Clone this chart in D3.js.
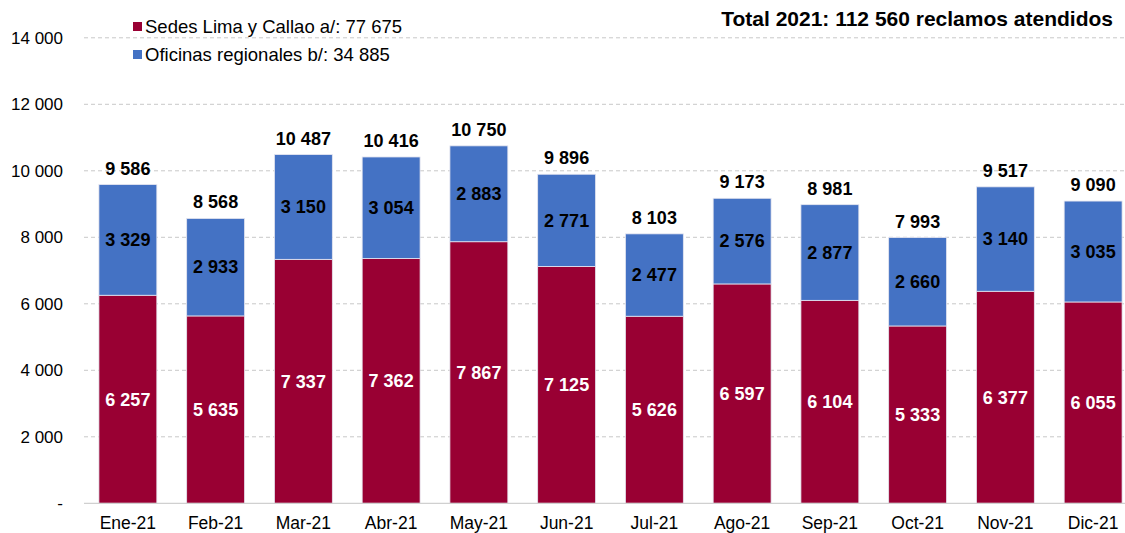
<!DOCTYPE html>
<html><head><meta charset="utf-8">
<script src="https://cdn.jsdelivr.net/npm/d3@7"></script>
<style>body{margin:0;background:#fff;font-family:"Liberation Sans",Arial,sans-serif;}</style>
</head><body><svg id="c" width="1125" height="533"></svg>
<script>
const categories = ["Ene-21","Feb-21","Mar-21","Abr-21","May-21","Jun-21","Jul-21","Ago-21","Sep-21","Oct-21","Nov-21","Dic-21"];
const lima = [6257,5635,7337,7362,7867,7125,5626,6597,6104,5333,6377,6055];
const regionales = [3329,2933,3150,3054,2883,2771,2477,2576,2877,2660,3140,3035];
const totals = [9586,8568,10487,10416,10750,9896,8103,9173,8981,7993,9517,9090];
const yTicks = [0,2000,4000,6000,8000,10000,12000,14000];
const legendLabels = ["Sedes Lima y Callao a/: 77 675","Oficinas regionales b/: 34 885"];
const title = "Total 2021: 112 560 reclamos atendidos";
const colors = ["#990033","#4472C4"];

const svg = d3.select("#c");
const fmt = v => v === 0 ? "-" : d3.format(",")(v).replace(/,/g," ");
const x = d3.scaleBand().domain(categories).range([84,1137]).paddingInner(0.34).paddingOuter(0.17);
const y = d3.scaleLinear().domain([0,14000]).range([503.3,37.8]);

svg.append("g").selectAll("line").data(yTicks.filter(d=>d>0)).join("line")
  .attr("x1",84).attr("x2",1125).attr("y1",d=>y(d)).attr("y2",d=>y(d))
  .attr("stroke","#c8c8c8").attr("stroke-dasharray","4,3").attr("stroke-width",1);

const yAxis = d3.axisLeft(y).tickValues(yTicks).tickFormat(fmt).tickSize(0).tickPadding(0);
const ya = svg.append("g").attr("transform","translate(63,0)").call(yAxis);
ya.select(".domain").remove();
ya.selectAll("text").attr("font-size",17).attr("fill","#000").attr("font-family","Liberation Sans, Arial, sans-serif");

const stackData = categories.map((c,i)=>({cat:c, lima:lima[i], reg:regionales[i]}));
const series = d3.stack().keys(["lima","reg"])(stackData);
const g = svg.append("g");
series.forEach((s,si)=>{
  g.selectAll(null).data(s).join("rect")
    .attr("x",d=>x(d.data.cat)).attr("width",x.bandwidth())
    .attr("y",d=>y(d[1])).attr("height",d=>y(d[0])-y(d[1]))
    .attr("fill",colors[si]).attr("stroke","#e6e6f0").attr("stroke-width",0.8);
  g.selectAll(null).data(s).join("text")
    .attr("x",d=>x(d.data.cat)+x.bandwidth()/2).attr("y",d=>(y(d[0])+y(d[1]))/2)
    .attr("dy","0.35em").attr("text-anchor","middle")
    .attr("font-size",18).attr("font-weight","bold")
    .attr("fill",si===0?"#fff":"#000")
    .text(d=>fmt(d[1]-d[0]));
});

g.selectAll(null).data(categories).join("text")
  .attr("x",d=>x(d)+x.bandwidth()/2).attr("y",(d,i)=>y(totals[i])-10)
  .attr("text-anchor","middle").attr("font-size",18).attr("font-weight","bold").attr("fill","#000")
  .text((d,i)=>fmt(totals[i]));

svg.append("line").attr("x1",84).attr("x2",1125).attr("y1",y(0)).attr("y2",y(0)).attr("stroke","#d0d0d0").attr("stroke-width",1.3);
const xAxis = d3.axisBottom(x).tickSize(0).tickPadding(13);
const xa = svg.append("g").attr("transform",`translate(0,${y(0)})`).call(xAxis);
xa.select(".domain").remove();
xa.selectAll("text").attr("font-size",17.5).attr("fill","#000").attr("font-family","Liberation Sans, Arial, sans-serif");

const lg = svg.append("g");
legendLabels.forEach((t,i)=>{
  lg.append("rect").attr("x",133).attr("y",22+i*28).attr("width",9).attr("height",9).attr("fill",colors[i]);
  lg.append("text").attr("x",145).attr("y",33+i*28).attr("font-size",18.5).attr("fill","#000").text(t);
});

svg.append("text").attr("x",1113).attr("y",26).attr("text-anchor","end")
  .attr("font-size",21).attr("font-weight","bold").attr("fill","#000").text(title);
</script></body></html>
